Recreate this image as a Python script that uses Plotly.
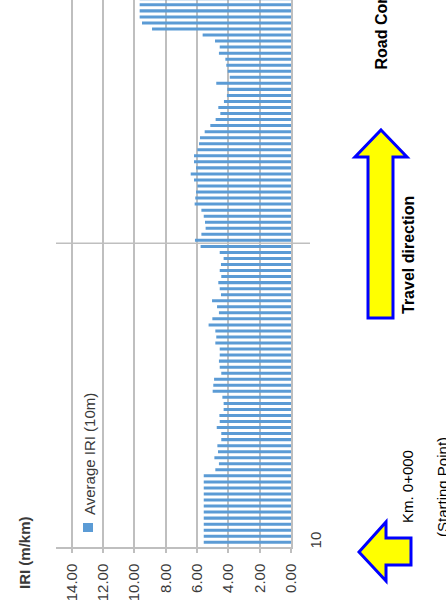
import plotly.graph_objects as go

# distance from the starting point (m), one reading every 10 m
distance_m = list(range(10, 920, 10))

# Average IRI (m/km) per 10 m segment, from km 0+000 upwards
iri_avg = [
    5.57, 5.57, 5.57, 5.57, 5.57, 5.57, 5.57, 5.57, 5.57, 5.57, 5.57, 5.57,
    4.83, 4.60, 4.89, 4.66, 4.70, 4.45, 4.45, 4.74, 4.55, 4.57, 4.30, 4.30,
    4.38, 5.00, 4.96, 4.91, 4.45, 4.55, 4.60, 4.55, 4.55, 4.83, 4.77, 4.83,
    5.26, 5.02, 4.60, 4.72, 5.04, 4.47, 4.55, 4.64, 4.45, 4.55, 4.47, 4.30,
    4.55, 5.77, 6.13, 5.72, 5.45, 5.49, 5.57, 5.72, 6.15, 6.11, 6.06, 5.98,
    6.19, 6.40, 6.06, 6.19, 6.19, 5.98, 5.87, 5.81, 5.51, 5.15, 4.81, 4.51,
    4.64, 4.28, 4.09, 4.06, 4.77, 3.91, 4.04, 4.13, 4.19, 4.60, 4.55, 4.85,
    5.64, 8.87, 9.51, 9.66, 9.66, 9.66, 9.66,
]

iri_ticks = [0, 2, 4, 6, 8, 10, 12, 14]
iri_tick_text = ["0.00", "2.00", "4.00", "6.00", "8.00", "10.00", "12.00", "14.00"]
distance_ticks = [10]
distance_tick_text = ["10"]

W, H = 446, 606
L, R, T, B = 56, 155, 0, 59
GRID = "#BFBFBF"
TXT = "#3a3a3a"


def px(x):
    return (x - L) / (W - L - R)


def py(y):
    return (H - B - y) / (H - T - B)


def path(points):
    return "M " + " L ".join(f"{px(x):.4f},{py(y):.4f}" for x, y in points) + " Z"


def side_text(text, x, y, size=15, color="black", **kw):
    # text turned a quarter turn, centred on pixel (x, y)
    fig.add_annotation(xref="paper", yref="paper", x=px(x), y=py(y), text=text,
                       textangle=-90, showarrow=False, xanchor="center",
                       yanchor=kw.pop("yanchor", "middle"),
                       font=dict(size=size, color=color), **kw)


fig = go.Figure()
fig.add_trace(go.Bar(x=iri_avg, y=distance_m, orientation="h",
                     marker=dict(color="#5B9BD5", line=dict(width=0)),
                     name="Average IRI (10m)"))

fig.update_layout(
    width=W, height=H,
    margin=dict(l=L, r=R, t=T, b=B, autoexpand=False),
    plot_bgcolor="white", paper_bgcolor="white",
    showlegend=False, bargap=0.5,
    font=dict(family="Arial, Liberation Sans, sans-serif", size=15, color=TXT),
)
fig.update_xaxes(range=[15, 0], tickvals=iri_ticks, ticktext=iri_tick_text,
                 tickangle=-90, showgrid=True, gridcolor=GRID, gridwidth=1.5,
                 showline=True, linecolor=GRID, linewidth=1.5,
                 ticks="outside", ticklen=4, tickcolor=GRID, tickwidth=1.5,
                 zeroline=False, ticklabelstandoff=5, automargin=False)
fig.update_yaxes(range=[2.2, 908], side="right", tickvals=distance_ticks,
                 ticktext=distance_tick_text, tickangle=-90, showgrid=False,
                 showline=True, linecolor=GRID, linewidth=1.5, zeroline=False,
                 ticks="", ticklabelstandoff=10, automargin=False)

# separator after the first 500 m
fig.add_shape(type="line", xref="paper", yref="y", x0=0, x1=px(310), y0=505, y1=505,
              line=dict(color=GRID, width=1.5))

# legend drawn sideways like the rest of the chart
fig.add_shape(type="rect", xref="paper", yref="paper", x0=px(83), x1=px(93),
              y0=py(532), y1=py(523), fillcolor="#5B9BD5", line=dict(width=0))
side_text("Average IRI (10m)", 89, 454, color=TXT)

# axis title
side_text("<b>IRI (m/km)</b>", 24, 553, color=TXT)

# travel direction arrow
fig.add_shape(type="path", xref="paper", yref="paper",
              path=path([(381, 130), (407, 157), (393, 157), (393, 318),
                         (368, 318), (368, 157), (355, 157)]),
              fillcolor="#FFFF00", line=dict(color="#0000FF", width=3))
side_text("<b>Travel direction</b>", 408, 255, size=16)

# starting point arrow
fig.add_shape(type="path", xref="paper", yref="paper",
              path=path([(359, 552), (386, 522), (386, 538), (411, 538),
                         (411, 565), (386, 565), (386, 581)]),
              fillcolor="#FFFF00", line=dict(color="#0000FF", width=3))
side_text("Km. 0+000", 407, 487)
side_text("(Starting Point)", 442, 487)

# chart title, cut off at the top edge
side_text("<b>Road Condition</b>", 381, 72, size=16, yanchor="bottom")

fig.write_html("out.html", config={"displayModeBar": False},
               post_script="document.body.style.margin = '0';")
